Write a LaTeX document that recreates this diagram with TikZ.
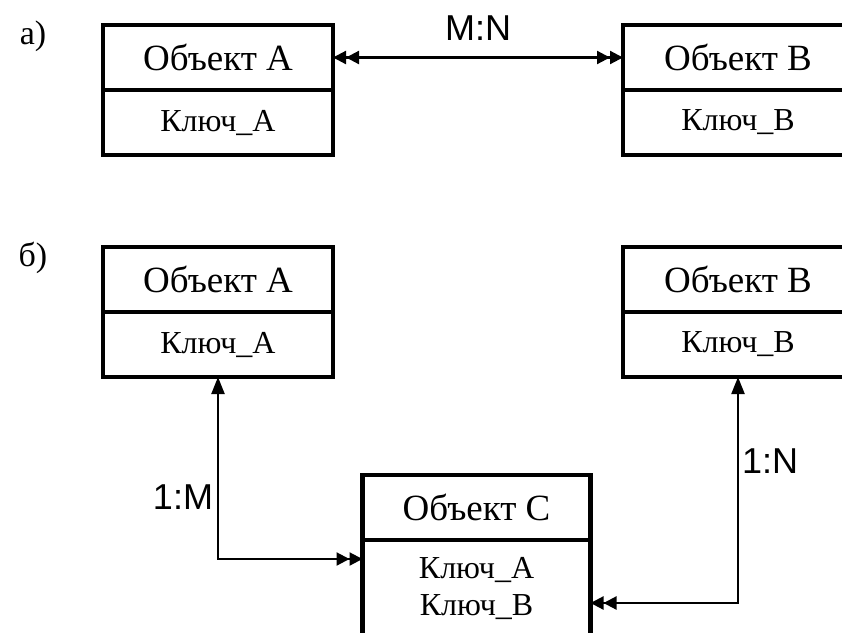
\documentclass[tikz,border=0pt]{standalone}
\usepackage{fontspec}
\setmainfont{Liberation Serif}
\setsansfont{Liberation Sans}
\usetikzlibrary{arrows.meta,calc}
\begin{document}
\begin{tikzpicture}[x=1pt,y=-1pt,
  part/.style={draw,line width=4.5pt,minimum width=230pt,minimum height=65pt,inner sep=0pt,outer sep=0pt,font=\fontsize{37}{40}\selectfont},
  keypart/.style={part,font=\fontsize{32}{37}\selectfont},
  lbl/.style={font=\sffamily\fontsize{36}{40}\selectfont,inner sep=0pt},
  side/.style={font=\fontsize{34}{36}\selectfont,inner sep=0pt},
  conn/.style={line width=2.2pt},
  dtip/.tip={Triangle[length=13pt,width=13pt]Triangle[length=13pt,width=13pt]},
  stip/.tip={Triangle[length=17pt,width=13pt]}
]
\useasboundingbox (0,0) rectangle (842,632);
\clip (0,0) rectangle (842,632);
% part a
\node[side] (la) at (33,36) {а)};
\node[part] (At) at (218,57.5) {Объект А};
\node[keypart] (Ak) at (218,122.5) {Ключ\_А};
\node[part] (Bt) at (738,57.5) {Объект В};
\node[keypart] (Bk) at (738,122.5) {Ключ\_В};
\draw[conn,{dtip}-{dtip}] (At.east) -- (Bt.west);
\node[lbl] (mn) at (478,28) {M:N};
% part b
\node[side] (lb) at (33,258) {б)};
\node[part] (At2) at (218,279.5) {Объект А};
\node[keypart] (Ak2) at (218,344.5) {Ключ\_А};
\node[part] (Bt2) at (738,279.5) {Объект В};
\node[keypart] (Bk2) at (738,344.5) {Ключ\_В};
\node[part,minimum width=228pt] (Ct) at (476.5,507.5) {Объект С};
\node[part,minimum width=228pt,minimum height=96pt,font=\fontsize{32}{37}\selectfont,align=center,anchor=north] (Ck) at (Ct.south) {Ключ\_А\\Ключ\_В};
\coordinate (cA) at ([yshift=-19pt]Ct.south west);
\coordinate (cB) at ([yshift=-63pt]Ct.south east);
\draw[conn,{stip}-{dtip}] (Ak2.south) |- (cA);
\draw[conn,{stip}-{dtip}] (Bk2.south) |- (cB);
\node[lbl] (m1) at (183,497) {1:M};
\node[lbl] (n1) at (770,461) {1:N};
\end{tikzpicture}
\end{document}
